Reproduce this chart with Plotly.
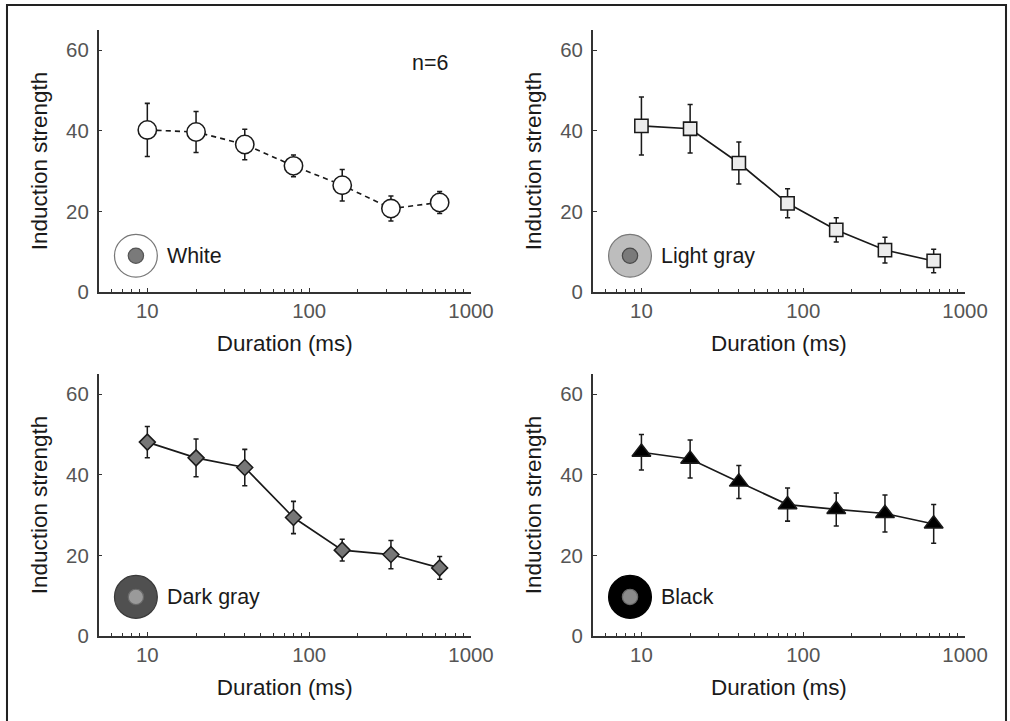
import math
import plotly.graph_objects as go

# Stimulus durations (ms), shared by all four conditions
durations = [10, 20, 40, 80, 160, 320, 640]

# Mean induction strength and error (half-length of error bar) per surround
white_mean = [40.2, 39.7, 36.6, 31.3, 26.5, 20.7, 22.2]
white_err = [6.6, 5.1, 3.8, 2.7, 3.9, 3.1, 2.7]

light_mean = [41.2, 40.5, 32.0, 22.0, 15.4, 10.4, 7.7]
light_err = [7.2, 6.0, 5.2, 3.6, 3.0, 3.2, 2.9]

dark_mean = [48.1, 44.2, 41.8, 29.4, 21.3, 20.2, 16.9]
dark_err = [3.9, 4.7, 4.5, 4.0, 2.7, 3.5, 2.8]

black_mean = [45.6, 43.9, 38.2, 32.6, 31.4, 30.4, 27.8]
black_err = [4.4, 4.7, 4.1, 4.1, 4.1, 4.6, 4.8]

condition_names = ["White", "Light gray", "Dark gray", "Black"]

x_ticks = [10, 100, 1000]
x_minor = [6, 7, 8, 9, 20, 30, 40, 50, 60, 70, 80, 90,
           200, 300, 400, 500, 600, 700, 800, 900]
y_ticks = [0, 20, 40, 60]

FONT = "Liberation Sans, Arial, Helvetica, sans-serif"
INK = "#1a1a1a"
TICK_GRAY = "#555555"

# Layout is designed on a 1010x721 grid; SX/SY scale the canvas and S the
# pixel-sized styling (fonts, markers, strokes)
BW, BH = 1010, 721
SX, SY = 1.022, 1.015
S = 1.02
W, H = round(BW * SX), round(BH * SY)


def px(v):
    return v * S


col_dom = [[98.7 / BW, 471.5 / BW], [593.3 / BW, 966.0 / BW]]
row_dom = [[1 - 292 / BH, 1 - 30 / BH], [1 - 636 / BH, 1 - 374 / BH]]

panels = [
    dict(mean=white_mean, err=white_err, symbol="circle", size=18,
         fill="white", dash="5px,4px",
         ring_fill="white", ring_line="#777777", dot_fill="#7a7a7a", dot_line="#555555",
         col=0, row=0, icon_y=9.0),
    dict(mean=light_mean, err=light_err, symbol="square", size=13,
         fill="#ececec", dash="solid",
         ring_fill="#bdbdbd", ring_line="#7a7a7a", dot_fill="#7a7a7a", dot_line="#4a4a4a",
         col=1, row=0, icon_y=9.0),
    dict(mean=dark_mean, err=dark_err, symbol="diamond", size=12,
         fill="#777777", dash="solid",
         ring_fill="#505050", ring_line="#3a3a3a", dot_fill="#9a9a9a", dot_line="#6a6a6a",
         col=0, row=1, icon_y=9.7),
    dict(mean=black_mean, err=black_err, symbol="triangle-up", size=16,
         fill="#000000", dash="solid",
         ring_fill="#000000", ring_line="#000000", dot_fill="#8a8a8a", dot_line="#6a6a6a",
         col=1, row=1, icon_y=9.7),
]

fig = go.Figure()
layout = dict(
    width=W, height=H, autosize=False,
    margin=dict(l=0, r=0, t=0, b=0),
    paper_bgcolor="white", plot_bgcolor="white",
    showlegend=False,
    font=dict(family=FONT, color=INK),
)
annotations = []

for i, (p, name) in enumerate(zip(panels, condition_names)):
    k = i + 1
    xa = "x" if k == 1 else f"x{k}"
    ya = "y" if k == 1 else f"y{k}"

    fig.add_trace(go.Scatter(
        x=durations, y=p["mean"], xaxis=xa, yaxis=ya,
        mode="lines+markers",
        line=dict(color=INK, width=px(1.6),
                  dash=p["dash"] if p["dash"] == "solid" else f"{px(5):.1f}px,{px(4):.1f}px"),
        marker=dict(symbol=p["symbol"], size=px(p["size"]), color=p["fill"],
                    line=dict(color=INK, width=px(1.5))),
        error_y=dict(type="data", array=p["err"], visible=True,
                     color=INK, thickness=px(1.5), width=px(2.5)),
        cliponaxis=False,
    ))

    # Surround/centre swatch beside the condition name
    fig.add_trace(go.Scatter(
        x=[8.5, 8.5], y=[p["icon_y"], p["icon_y"]], xaxis=xa, yaxis=ya,
        mode="markers",
        marker=dict(symbol="circle", size=[px(42), px(15)], opacity=1,
                    color=[p["ring_fill"], p["dot_fill"]],
                    line=dict(color=[p["ring_line"], p["dot_line"]], width=px(1.2))),
        hoverinfo="skip", cliponaxis=False,
    ))

    annotations.append(dict(
        x=math.log10(12.8), y=p["icon_y"], xref=xa, yref=ya,
        text=name, showarrow=False, xanchor="left", yanchor="middle",
        font=dict(family=FONT, size=px(21), color=INK),
    ))

    axis_common = dict(
        showline=True, linecolor="#333333", linewidth=px(1.5),
        showgrid=False, zeroline=False,
        ticks="inside", ticklen=px(4), tickwidth=px(1.2), tickcolor="#333333",
        tickfont=dict(family=FONT, size=px(20), color=TICK_GRAY),
    )
    layout["xaxis" if k == 1 else f"xaxis{k}"] = dict(
        axis_common,
        type="log", range=[math.log10(5), 3],
        domain=col_dom[p["col"]], anchor=ya,
        tickmode="array", tickvals=x_ticks, ticktext=[str(v) for v in x_ticks],
        minor=dict(tickmode="array", tickvals=x_minor, ticks="inside",
                   ticklen=px(3), tickwidth=px(1.2), tickcolor="#333333", showgrid=False),
        ticklabelstandoff=0,
        title=dict(text="Duration (ms)", standoff=px(14),
                   font=dict(family=FONT, size=px(22), color=INK)),
    )
    layout["yaxis" if k == 1 else f"yaxis{k}"] = dict(
        axis_common,
        range=[0, 65], domain=row_dom[p["row"]], anchor=xa,
        tickmode="array", tickvals=y_ticks,
        ticklabelstandoff=round(px(4)),
        title=dict(text="Induction strength", standoff=px(12),
                   font=dict(family=FONT, size=px(22), color=INK)),
    )

annotations.append(dict(
    x=math.log10(558), y=56.8, xref="x", yref="y",
    text="n=6", showarrow=False, xanchor="center", yanchor="middle",
    font=dict(family=FONT, size=px(21), color=INK),
))
layout["annotations"] = annotations

# Outer frame around the whole figure
layout["shapes"] = [
    dict(type="rect", xref="paper", yref="paper",
         x0=7 / BW, x1=1007 / BW, y0=-0.02, y1=1 - 5 / BH,
         line=dict(color="#222222", width=px(2)), fillcolor="rgba(0,0,0,0)"),
]

fig.update_layout(**layout)
fig.write_html("out.html")
